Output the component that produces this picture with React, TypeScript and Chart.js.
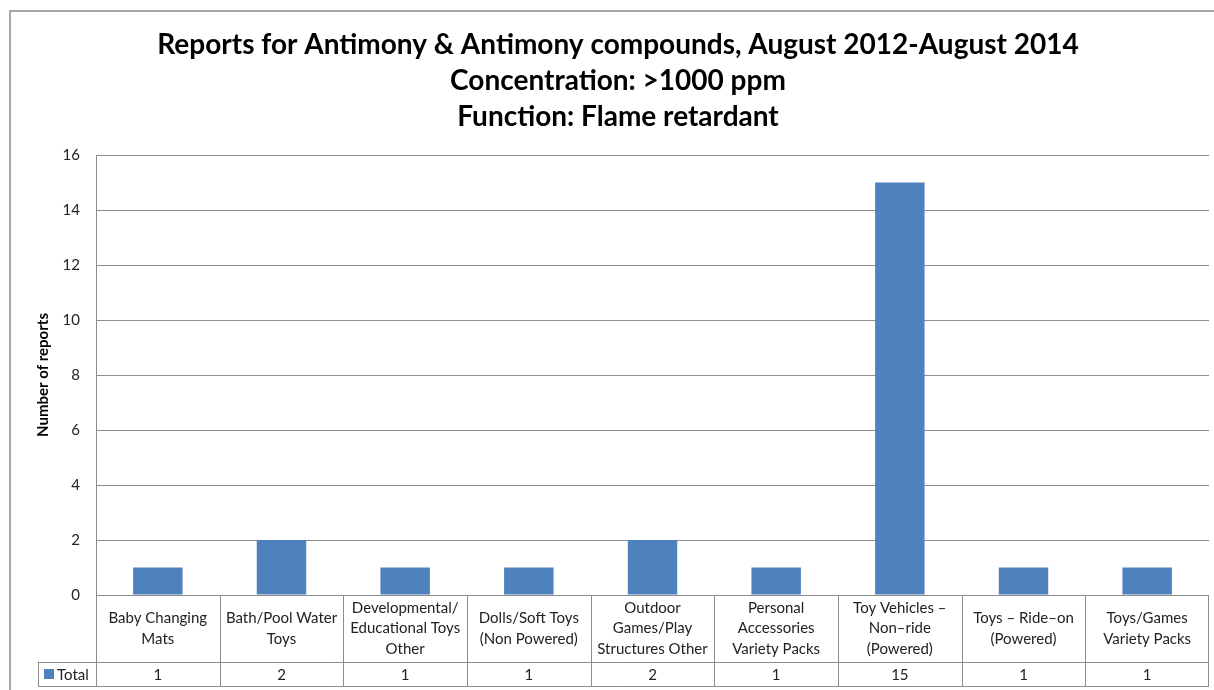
import React, { useEffect, useRef } from "react";
import { Chart, registerables } from "chart.js";

Chart.register(...registerables);

const titleLines = [
  "Reports for Antimony & Antimony compounds, August 2012-August 2014",
  "Concentration: >1000 ppm",
  "Function: Flame retardant",
];
const categoryLines: string[][] = [
  ["Baby Changing", "Mats"],
  ["Bath/Pool Water", "Toys"],
  ["Developmental/", "Educational Toys", "Other"],
  ["Dolls/Soft Toys", "(Non Powered)"],
  ["Outdoor", "Games/Play", "Structures Other"],
  ["Personal", "Accessories", "Variety Packs"],
  ["Toy Vehicles \u2013", "Non\u2013ride", "(Powered)"],
  ["Toys \u2013 Ride\u2013on", "(Powered)"],
  ["Toys/Games", "Variety Packs"],
];
const categories = categoryLines.map((l) => l.join(" "));
const seriesName = "Total";
const totals = [1, 2, 1, 1, 2, 1, 15, 1, 1];
const yTitle = "Number of reports";

const BAR = "#4F81BD";
const LINE = "#8C8C8C";
const FONT = "Lato, 'Open Sans', sans-serif";

const framePlugin = {
  id: "frame",
  beforeDraw(chart: any) {
    const ctx = chart.ctx;
    ctx.save();
    ctx.fillStyle = "#ffffff";
    ctx.fillRect(0, 0, chart.width, chart.height);
    ctx.strokeStyle = "#8a8a8a";
    ctx.lineWidth = 1.5;
    ctx.strokeRect(10, 11, chart.width + 20, chart.height + 20);
    ctx.restore();
  },
  afterDraw(chart: any) {
    const ctx = chart.ctx;
    ctx.save();
    ctx.fillStyle = "#000";
    ctx.font = `bold 28px ${FONT}`;
    ctx.textAlign = "center";
    ctx.textBaseline = "middle";
    titleLines.forEach((t, i) => ctx.fillText(t, 618, 45 + i * 36));
    ctx.restore();
  },
};

const tablePlugin = {
  id: "dataTable",
  afterDraw(chart: any) {
    const ctx = chart.ctx;
    const x = chart.scales.x;
    const area = chart.chartArea;
    const n = categories.length;
    const catW = (area.right - area.left) / n;
    const rowTop = area.bottom;
    const midY = rowTop + 67;
    const botY = midY + 24;
    const legendLeft = 38;
    ctx.save();
    ctx.strokeStyle = LINE;
    ctx.lineWidth = 1;
    ctx.beginPath();
    ctx.moveTo(legendLeft, midY + 0.5);
    ctx.lineTo(area.right, midY + 0.5);
    ctx.moveTo(legendLeft, botY + 0.5);
    ctx.lineTo(area.right, botY + 0.5);
    ctx.stroke();
    ctx.beginPath();
    for (let i = 0; i < n; i++) {
      const c = x.getPixelForValue(i);
      const l = Math.round(c - catW / 2) + 0.5;
      ctx.moveTo(l, rowTop);
      ctx.lineTo(l, botY);
    }
    const r = Math.round(x.getPixelForValue(n - 1) + catW / 2) - 0.5;
    ctx.moveTo(r, rowTop);
    ctx.lineTo(r, botY);
    ctx.moveTo(legendLeft + 0.5, midY);
    ctx.lineTo(legendLeft + 0.5, botY);
    ctx.stroke();
    ctx.fillStyle = "#222";
    ctx.font = `15px ${FONT}`;
    ctx.textAlign = "center";
    ctx.textBaseline = "middle";
    const lh = 20.5;
    for (let i = 0; i < n; i++) {
      const c = x.getPixelForValue(i);
      const lines = categoryLines[i];
      const cy = rowTop + 33.5;
      lines.forEach((t, k) => {
        ctx.fillText(t, c, cy + (k - (lines.length - 1) / 2) * lh);
      });
      ctx.fillText(String(totals[i]), c, (midY + botY) / 2 + 1);
    }
    ctx.fillStyle = BAR;
    ctx.fillRect(44, midY + 7, 10, 10);
    ctx.fillStyle = "#222";
    ctx.textAlign = "left";
    ctx.fillText(seriesName, 57, (midY + botY) / 2 + 1);
    ctx.restore();
  },
};

export default function App() {
  const ref = useRef<HTMLCanvasElement>(null);
  useEffect(() => {
    document.body.style.margin = "0";
    const chart = new Chart(ref.current!, {
      type: "bar",
      data: {
        labels: categories,
        datasets: [
          {
            label: seriesName,
            data: totals,
            backgroundColor: BAR,
            barPercentage: 0.4,
            categoryPercentage: 1,
          },
        ],
      },
      options: {
        responsive: false,
        animation: false,
        layout: { padding: { top: 155, right: 5, left: 0, bottom: 0 } },
        plugins: {
          legend: { display: false },
          tooltip: { enabled: false },
          title: { display: false },
        },
        scales: {
          x: {
            grid: { display: false },
            border: { display: false },
            ticks: { display: false },
            afterFit: (s: any) => {
              s.height = 95;
            },
          },
          y: {
            min: 0,
            max: 16,
            ticks: {
              stepSize: 2,
              padding: 16,
              color: "#222",
              font: { family: FONT, size: 15 },
            },
            grid: { color: LINE, drawTicks: false },
            border: { color: LINE },
            title: {
              display: true,
              text: yTitle,
              color: "#000",
              font: { family: FONT, size: 15, weight: "bold" },
              padding: { top: 34 },
            },
            afterFit: (s: any) => {
              s.width = 96;
            },
          },
        },
      },
      plugins: [framePlugin, tablePlugin],
    });
    return () => chart.destroy();
  }, []);
  return <canvas ref={ref} width={1214} height={690} style={{ display: "block" }} />;
}
